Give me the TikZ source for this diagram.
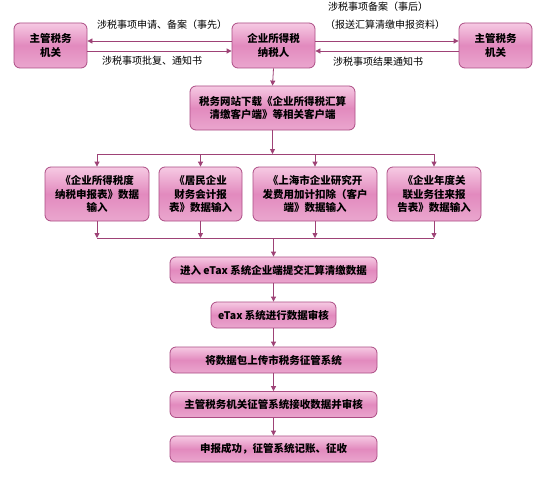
\documentclass[tikz,border=0pt]{standalone}
\usepackage{fontspec}
\setmainfont{Noto Sans CJK SC}
\usetikzlibrary{arrows.meta}
\definecolor{pinkTop}{RGB}{246,202,227}
\definecolor{pinkMid}{RGB}{226,138,190}
\definecolor{pinkBot}{RGB}{234,166,206}
\definecolor{boxEdge}{RGB}{172,76,132}
\definecolor{lineCol}{RGB}{158,66,118}
\tikzset{
  pbox/.style={draw=boxEdge, line width=0.8pt, rounded corners=6pt,
    top color=pinkTop, bottom color=pinkBot, middle color=pinkMid,
    align=center, inner sep=2pt,
    font=\fontsize{10.5}{13.5}\selectfont\bfseries},
  lbl/.style={font=\fontsize{10}{12}\selectfont, inner sep=1pt},
  arr/.style={draw=lineCol, line width=0.8pt, -{Triangle[length=5pt,width=5pt]}},
  ln/.style={draw=lineCol, line width=0.8pt}
}
\begin{document}
\begin{tikzpicture}[x=1pt,y=-1pt]
\useasboundingbox[fill=white] (0,0) rectangle (553,476);
% top row
\node[pbox, minimum width=73pt, minimum height=45pt] (L) at (50.5,45.5) {主管税务\\机关};
\node[pbox, minimum width=83pt, minimum height=45pt] (M) at (273.5,45.5) {企业所得税\\纳税人};
\node[pbox, minimum width=73pt, minimum height=45pt] (R) at (495.5,45.5) {主管税务\\机关};
\draw[arr] ([yshift=4.5pt]M.west) -- ([yshift=4.5pt]L.east);
\draw[arr] ([yshift=-5.5pt]L.east) -- ([yshift=-5.5pt]M.west);
\draw[arr] ([yshift=4.5pt]M.east) -- ([yshift=4.5pt]R.west);
\draw[arr] ([yshift=-5.5pt]R.west) -- ([yshift=-5.5pt]M.east);
\node[lbl] (t1) at (162,25) {涉税事项申请、备案（事先）};
\node[lbl] (t2) at (152,61) {涉税事项批复、通知书};
\node[lbl] (t3) at (378,7) {涉税事项备案（事后）};
\node[lbl] (t4) at (385,25) {（报送汇算清缴申报资料）};
\node[lbl] (t5) at (378,62) {涉税事项结果通知书};
% download box
\node[pbox, minimum width=165pt, minimum height=44pt] (D) at (272.5,108) {税务网站下载《企业所得税汇算\\清缴客户端》等相关客户端};
\draw[arr] (M.south) -- (D.north);
% four boxes
\node[pbox, minimum width=104pt, minimum height=54pt] (B1) at (97,194) {《企业所得税度\\纳税申报表》数据\\输入};
\node[pbox, minimum width=83pt, minimum height=54pt] (B2) at (200.5,194) {《居民企业\\财务会计报\\表》数据输入};
\node[pbox, minimum width=124pt, minimum height=54pt] (B3) at (315,194) {《上海市企业研究开\\发费用加计扣除（客户\\端》数据输入};
\node[pbox, minimum width=94pt, minimum height=54pt] (B4) at (434,194) {《企业年度关\\联业务往来报\\告表》数据输入};
\coordinate (h1) at (272.5,154);
\coordinate (h2) at (273.5,238);
\draw[arr] (D.south) -- (h1);
\draw[ln] (B1.north |- h1) -- (B4.north |- h1);
\foreach \b in {B1,B2,B3,B4} {\draw[arr] (\b.north |- h1) -- (\b.north);}
\foreach \b in {B1,B2,B3,B4} {\draw[arr] (\b.south) -- (\b.south |- h2);}
\draw[ln] (B1.south |- h2) -- (B4.south |- h2);
% lower chain
\node[pbox, minimum width=207pt, minimum height=26pt] (E1) at (273.5,270) {进入 eTax 系统企业端提交汇算清缴数据};
\node[pbox, minimum width=125pt, minimum height=26pt] (E2) at (273.5,315) {eTax 系统进行数据审核};
\node[pbox, minimum width=207pt, minimum height=26pt] (E3) at (273.5,360) {将数据包上传市税务征管系统};
\node[pbox, minimum width=207pt, minimum height=26pt] (E4) at (273.5,404.5) {主管税务机关征管系统接收数据并审核};
\node[pbox, minimum width=207pt, minimum height=26pt] (E5) at (273.5,449) {申报成功，征管系统记账、征收};
\draw[arr] (h2) -- (E1.north);
\draw[arr] (E1) -- (E2);
\draw[arr] (E2) -- (E3);
\draw[arr] (E3) -- (E4);
\draw[arr] (E4) -- (E5);
\end{tikzpicture}
\end{document}
